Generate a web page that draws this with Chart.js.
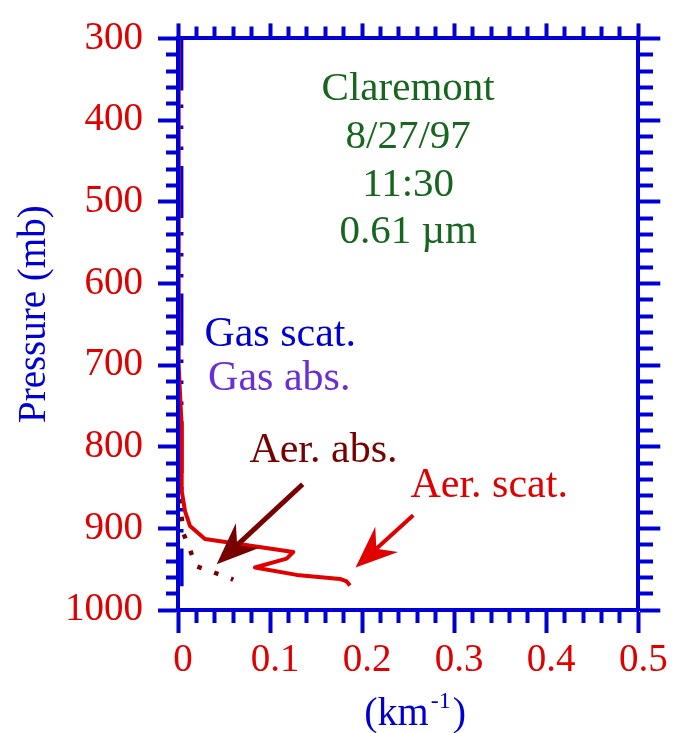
<!DOCTYPE html>
<html>
<head>
<meta charset="utf-8">
<script src="https://cdn.jsdelivr.net/npm/chart.js@4.4.0/dist/chart.umd.min.js"></script>
<style>
  html, body { margin: 0; padding: 0; background: #ffffff; }
  canvas { display: block; }
</style>
</head>
<body>
<canvas id="profile" width="675" height="733"></canvas>
<script>
// Extinction profiles, Claremont 8/27/97 11:30, 0.61 µm

// Axis ticks
const xTickValues = [0, 0.1, 0.2, 0.3, 0.4, 0.5];
const xTickLabels = ['0', '0.1', '0.2', '0.3', '0.4', '0.5'];
const yTickValues = [300, 400, 500, 600, 700, 800, 900, 1000];
const yTickLabels = ['300', '400', '500', '600', '700', '800', '900', '1000'];

// Aerosol scattering coefficient (km^-1) against pressure (mb)
const aerScatPressure = [300, 600, 700, 735, 771, 854, 879, 897, 913, 929, 937, 948, 957, 962, 965, 970];
const aerScatCoef     = [0.0000, 0.0005, 0.0010, 0.0022, 0.0038, 0.0040, 0.0076, 0.0130, 0.0293, 0.1252, 0.1180, 0.0836, 0.1289, 0.1759, 0.1832, 0.1868];

// Aerosol absorption coefficient (km^-1)
const aerAbsPressure = [800, 860, 887, 906, 926, 946, 955, 962, 963];
const aerAbsCoef     = [0.0003, 0.0010, 0.0040, 0.0058, 0.0130, 0.0192, 0.0413, 0.0583, 0.0600];

// Gas (Rayleigh) scattering coefficient (km^-1)
const gasScatPressure = [300, 400, 500, 600, 700, 800, 900, 971];
const gasScatCoef     = [0.0039, 0.0039, 0.0040, 0.0040, 0.0040, 0.0041, 0.0041, 0.0042];

// Gas absorption coefficient (km^-1)
const gasAbsPressure = [300, 500, 700, 900, 971];
const gasAbsCoef     = [0.0001, 0.0001, 0.0001, 0.0002, 0.0002];

const BLUE = '#0000d4';
const RED = '#e00000';
const DARKRED = '#780000';
const PURPLE = '#6a2ed8';
const GREEN = '#17661f';
const SERIF = '"Liberation Serif", "Times New Roman", serif';

function points(xs, ps) {
  return xs.map((v, i) => ({ x: v, y: ps[i] }));
}

// major ticks plus evenly spaced minor ticks between them
function tickList(majors, parts) {
  const out = [];
  for (let i = 0; i < majors.length; i++) {
    out.push({ value: majors[i], main: true });
    if (i < majors.length - 1) {
      const step = (majors[i + 1] - majors[i]) / parts;
      for (let k = 1; k < parts; k++) out.push({ value: majors[i] + k * step, main: false });
    }
  }
  return out;
}

function labelFor(values, labels) {
  return (value) => {
    const i = values.findIndex(v => Math.abs(v - value) < 1e-9);
    return i >= 0 ? labels[i] : '';
  };
}

// outward tick marks; minor ones are shortened with a dash pattern
function grid(len, minorDash) {
  return {
    drawOnChartArea: false,
    drawTicks: true,
    tickLength: len,
    tickWidth: 4,
    tickColor: BLUE,
    tickBorderDash: (ctx) => (ctx.tick && !ctx.tick.main) ? minorDash : []
  };
}
const border = { display: true, color: BLUE, width: 4, z: 1 };

// Text labels, arrows and axis titles
const notes = {
  titleLines: ['Claremont', '8/27/97', '11:30', '0.61 µm'],
  titleX: 0.25,
  titleP: [375, 434, 493, 550],
  labels: [
    { text: 'Gas scat.', x: 0.111, p: 677, color: BLUE },
    { text: 'Gas abs.', x: 0.110, p: 731, color: PURPLE },
    { text: 'Aer. abs.', x: 0.158, p: 819, color: DARKRED },
    { text: 'Aer. scat.', x: 0.338, p: 862, color: RED }
  ],
  arrows: [
    { from: [0.1354, 846], to: [0.042, 944], color: DARKRED, width: 5 },
    { from: [0.2555, 884], to: [0.1929, 948], color: RED, width: 4 }
  ]
};

function drawArrow(ctx, x0, y0, x1, y1, color, width) {
  const dx = x1 - x0, dy = y1 - y0, L = Math.hypot(dx, dy);
  const ux = dx / L, uy = dy / L;
  const nx = -uy, ny = ux;
  const headLen = 42, half = 17, notch = 28;
  const bx = x1 - ux * headLen, by = y1 - uy * headLen;
  const mx = x1 - ux * notch, my = y1 - uy * notch;
  ctx.strokeStyle = color;
  ctx.lineWidth = width;
  ctx.lineCap = 'butt';
  ctx.beginPath();
  ctx.moveTo(x0, y0);
  ctx.lineTo(mx, my);
  ctx.stroke();
  ctx.fillStyle = color;
  ctx.beginPath();
  ctx.moveTo(x1, y1);
  ctx.lineTo(bx + nx * half, by + ny * half);
  ctx.lineTo(mx, my);
  ctx.lineTo(bx - nx * half, by - ny * half);
  ctx.closePath();
  ctx.fill();
}

const annotationPlugin = {
  id: 'annotations',
  afterDraw(chart) {
    const ctx = chart.ctx;
    const xs = chart.scales.x, ys = chart.scales.y;
    const area = chart.chartArea;
    ctx.save();

    // station / date / time / wavelength block
    ctx.font = '41px ' + SERIF;
    ctx.fillStyle = GREEN;
    ctx.textAlign = 'center';
    ctx.textBaseline = 'alphabetic';
    notes.titleLines.forEach((t, i) => {
      ctx.fillText(t, xs.getPixelForValue(notes.titleX), ys.getPixelForValue(notes.titleP[i]));
    });

    // series labels
    ctx.font = '42px ' + SERIF;
    notes.labels.forEach(l => {
      ctx.fillStyle = l.color;
      ctx.fillText(l.text, xs.getPixelForValue(l.x), ys.getPixelForValue(l.p));
    });

    // arrows
    notes.arrows.forEach(a => {
      drawArrow(ctx,
        xs.getPixelForValue(a.from[0]), ys.getPixelForValue(a.from[1]),
        xs.getPixelForValue(a.to[0]), ys.getPixelForValue(a.to[1]),
        a.color, a.width);
    });

    // y axis title
    ctx.save();
    ctx.translate(45, (area.top + area.bottom) / 2 - 10);
    ctx.rotate(-Math.PI / 2);
    ctx.font = '39px ' + SERIF;
    ctx.fillStyle = BLUE;
    ctx.textAlign = 'center';
    ctx.fillText('Pressure (mb)', 0, 0);
    ctx.restore();

    // x axis title with superscript
    const base = area.bottom + 115;
    const mainFont = '40px ' + SERIF, supFont = '24px ' + SERIF;
    ctx.font = mainFont;
    const w1 = ctx.measureText('(km').width;
    const w3 = ctx.measureText(')').width;
    ctx.font = supFont;
    const w2 = ctx.measureText('-1').width;
    const gap = 2;
    const total = w1 + gap + w2 + gap + w3;
    let x = (area.left + area.right) / 2 + 7 - total / 2;
    ctx.textAlign = 'left';
    ctx.fillStyle = BLUE;
    ctx.font = mainFont;
    ctx.fillText('(km', x, base);
    x += w1 + gap;
    ctx.font = supFont;
    ctx.fillText('-1', x, base - 17);
    x += w2 + gap;
    ctx.font = mainFont;
    ctx.fillText(')', x, base);

    ctx.restore();
  }
};

new Chart(document.getElementById('profile'), {
  type: 'line',
  data: {
    datasets: [
      {
        label: 'Aer. scat.',
        data: points(aerScatCoef, aerScatPressure),
        borderColor: RED,
        borderWidth: 4,
        borderJoinStyle: 'round',
        borderCapStyle: 'butt',
        pointRadius: 0,
        tension: 0,
        fill: false
      },
      {
        label: 'Aer. abs.',
        data: points(aerAbsCoef, aerAbsPressure),
        borderColor: DARKRED,
        borderWidth: 4.5,
        borderDash: [4.5, 13.3],
        borderDashOffset: 1,
        borderCapStyle: 'butt',
        pointRadius: 0,
        tension: 0,
        fill: false
      },
      {
        label: 'Gas scat.',
        data: points(gasScatCoef, gasScatPressure),
        borderColor: BLUE,
        borderWidth: 3.5,
        borderDash: [52, 14, 3.5, 17.5, 3.5, 17.5, 3.5, 16],
        borderCapStyle: 'butt',
        pointRadius: 0,
        tension: 0,
        fill: false
      },
      {
        label: 'Gas abs.',
        data: points(gasAbsCoef, gasAbsPressure),
        borderColor: PURPLE,
        borderWidth: 2,
        pointRadius: 0,
        tension: 0,
        fill: false
      }
    ]
  },
  options: {
    responsive: false,
    devicePixelRatio: 1,
    animation: false,
    events: [],
    layout: { padding: 0 },
    plugins: { legend: { display: false }, tooltip: { enabled: false } },
    scales: {
      x: {
        type: 'linear',
        position: 'bottom',
        min: 0,
        max: 0.5,
        afterBuildTicks: (s) => { s.ticks = tickList(xTickValues, 5); },
        afterFit: (s) => { s.height = 123; },
        ticks: {
          autoSkip: false,
          maxRotation: 0,
          padding: 4,
          labelOffset: 5,
          color: RED,
          font: { family: SERIF, size: 39 },
          callback: labelFor(xTickValues, xTickLabels)
        },
        grid: grid(23, [11, 100]),
        border: border
      },
      x2: {
        type: 'linear',
        position: 'top',
        min: 0,
        max: 0.5,
        afterBuildTicks: (s) => { s.ticks = tickList(xTickValues, 5); },
        afterFit: (s) => { s.height = 35; },
        ticks: { display: false },
        grid: grid(15, [0, 3, 30, 10]),
        border: border
      },
      y: {
        type: 'linear',
        position: 'left',
        reverse: true,
        min: 300,
        max: 1000,
        afterBuildTicks: (s) => { s.ticks = tickList(yTickValues, 5); },
        afterFit: (s) => { s.width = 178; },
        ticks: {
          autoSkip: false,
          padding: 15,
          color: RED,
          font: { family: SERIF, size: 39 },
          callback: labelFor(yTickValues, yTickLabels)
        },
        grid: grid(20, [0, 8, 30, 10]),
        border: border
      },
      y2: {
        type: 'linear',
        position: 'right',
        reverse: true,
        min: 300,
        max: 1000,
        afterBuildTicks: (s) => { s.ticks = tickList(yTickValues, 5); },
        afterFit: (s) => { s.width = 36.7; },
        ticks: { display: false },
        grid: grid(22, [13, 100]),
        border: border
      }
    }
  },
  plugins: [annotationPlugin]
});
</script>
</body>
</html>
